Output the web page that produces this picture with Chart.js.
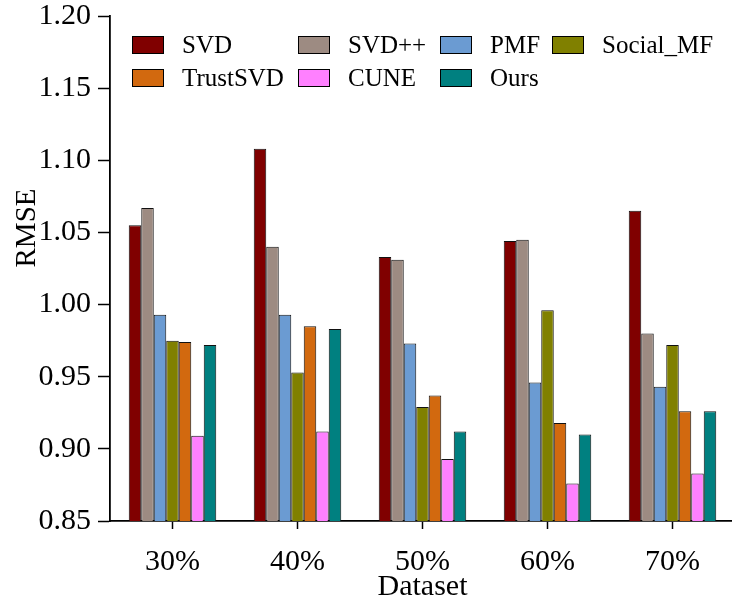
<!DOCTYPE html>
<html>
<head>
<meta charset="utf-8">
<script src="https://cdn.jsdelivr.net/npm/chart.js@4"></script>
<style>
  html, body { margin: 0; padding: 0; background: #fff; overflow: hidden; }
  #wrap { width: 732px; height: 604px; overflow: hidden; }
  canvas { display: block; }
</style>
</head>
<body>
<div id="wrap"><canvas id="c" width="740" height="604"></canvas></div>
<script>
const categories = ['30%', '40%', '50%', '60%', '70%'];
const seriesNames = ['SVD', 'SVD++', 'PMF', 'Social_MF', 'TrustSVD', 'CUNE', 'Ours'];
const svd      = [1.055, 1.108, 1.033, 1.044, 1.065];
const svdpp    = [1.067, 1.040, 1.031, 1.045, 0.980];
const pmf      = [0.993, 0.993, 0.973, 0.946, 0.943];
const socialMF = [0.975, 0.953, 0.929, 0.996, 0.972];
const trustSVD = [0.974, 0.985, 0.937, 0.918, 0.926];
const cune     = [0.909, 0.912, 0.893, 0.876, 0.883];
const ours     = [0.972, 0.983, 0.912, 0.910, 0.926];
const yTicks   = [0.85, 0.90, 0.95, 1.00, 1.05, 1.10, 1.15, 1.20];
const yTitle   = 'RMSE';
const xTitle   = 'Dataset';

const seriesValues = [svd, svdpp, pmf, socialMF, trustSVD, cune, ours];
const colors = ['#800000', '#9d8b82', '#6b9bd2', '#808000', '#d2690f', '#ff80ff', '#008080'];
const FONT = "'Liberation Serif', 'Times New Roman', serif";

// legend grid layout (4 columns, 2 rows)
const legendColX = [132, 298, 440, 552];
const legendRowY = [45, 78];

const gridLegend = {
  id: 'gridLegend',
  afterDraw(chart) {
    const ctx = chart.ctx;
    ctx.save();
    ctx.font = '25px ' + FONT;
    ctx.textBaseline = 'middle';
    ctx.textAlign = 'left';
    chart.data.datasets.forEach((ds, i) => {
      const col = i % 4, row = Math.floor(i / 4);
      const x = legendColX[col], y = legendRowY[row];
      ctx.fillStyle = ds.backgroundColor;
      ctx.fillRect(x, y - 9, 32, 18);
      ctx.strokeStyle = '#000';
      ctx.lineWidth = 1;
      ctx.strokeRect(x + 0.5, y - 9 + 0.5, 31, 17);
      ctx.fillStyle = '#000';
      ctx.fillText(ds.label, x + 50, y + 1);
    });
    // y axis title, placed like the reference (above the vertical centre)
    ctx.font = '29px ' + FONT;
    ctx.translate(27, 228);
    ctx.rotate(-Math.PI / 2);
    ctx.textAlign = 'center';
    ctx.fillText(yTitle, 0, 0);
    ctx.restore();
  }
};

new Chart(document.getElementById('c'), {
  type: 'bar',
  data: {
    labels: categories,
    datasets: seriesNames.map((name, i) => ({
      label: name,
      data: seriesValues[i],
      backgroundColor: colors[i],
      borderColor: '#111',
      borderWidth: 1,
      categoryPercentage: 0.70,
      barPercentage: 1.0
    }))
  },
  options: {
    responsive: false,
    animation: false,
    layout: { padding: { top: 16, right: 5, left: 0, bottom: 0 } },
    plugins: { legend: { display: false }, tooltip: { enabled: false } },
    scales: {
      x: {
        offset: true,
        grid: { offset: false, drawOnChartArea: false, drawTicks: true, tickLength: 8, tickColor: '#000', tickWidth: 1.5 },
        border: { display: true, color: '#000', width: 1.8 },
        ticks: { color: '#000', font: { family: FONT, size: 30, lineHeight: 1.0 }, padding: 18 },
        title: { display: true, text: xTitle, color: '#000', font: { family: FONT, size: 30, lineHeight: 1.0 }, padding: { top: 0, bottom: 2 } },
        afterFit(scale) { scale.height = 83; }
      },
      y: {
        min: 0.85,
        max: 1.20,
        afterBuildTicks(scale) { scale.ticks = yTicks.map(v => ({ value: v })); },
        grid: { drawOnChartArea: false, drawTicks: true, tickLength: 12, tickColor: '#000', tickWidth: 1.5 },
        border: { display: true, color: '#000', width: 1.8 },
        ticks: { color: '#000', font: { family: FONT, size: 30, lineHeight: 0.5 }, padding: 7, callback: v => Number(v).toFixed(2) },
        title: { display: false },
        afterFit(scale) { scale.width = 110; }
      }
    }
  },
  plugins: [gridLegend]
});
</script>
</body>
</html>
